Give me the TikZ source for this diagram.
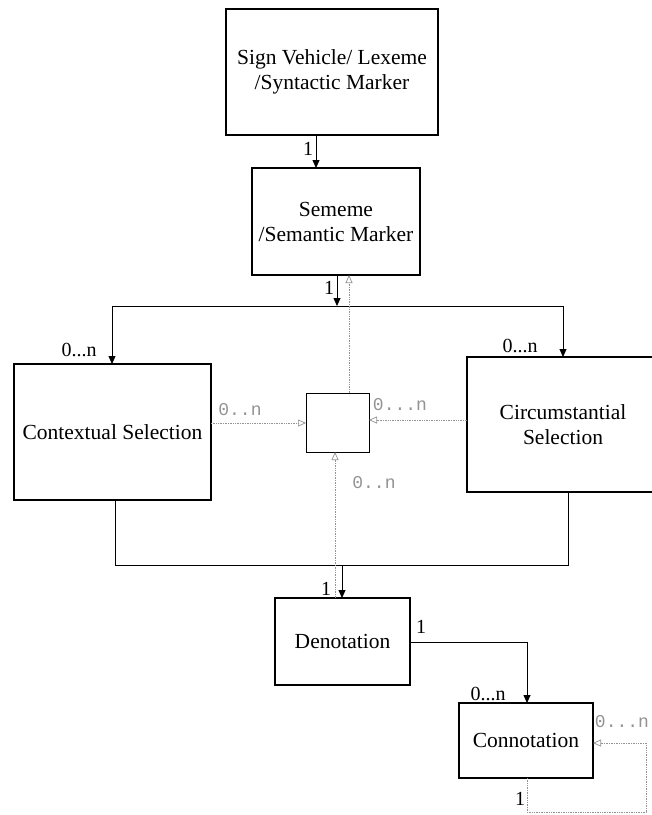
\documentclass[tikz,border=0pt]{standalone}
\usepackage{fontspec}
\setmainfont{Liberation Serif}
\setmonofont{Liberation Mono}
\usetikzlibrary{arrows.meta}
\tikzset{
  box/.style={draw=black, line width=1.3pt, inner sep=0pt, outer sep=0pt, align=center, font=\fontsize{21.5}{25}\selectfont},
  conn/.style={draw=black, line width=0.8pt},
  solidtip/.style={conn, -{Triangle[length=8pt,width=7pt]}},
  grayconn/.style={draw=gray!85, line width=0.7pt, densely dotted},
  graytip/.style={grayconn, -{Triangle[open,length=8pt,width=7pt]}},
  mult/.style={font=\fontsize{20}{20}\selectfont, inner sep=0pt},
  gmult/.style={font=\ttfamily\fontsize{18}{18}\selectfont, text=gray!85, inner sep=0pt}
}
\begin{document}
\begin{tikzpicture}[x=1pt,y=-1pt]
\useasboundingbox (0,0) rectangle (652,815);

% boxes
\node[box, minimum width=212pt, minimum height=126pt] (sv) at (332,72) {Sign Vehicle/ Lexeme\\/Syntactic Marker};
\node[box, minimum width=168pt, minimum height=107pt] (sem) at (336,221.5) {Sememe\\/Semantic Marker};
\node[box, minimum width=197pt, minimum height=136pt] (ctx) at (112.5,432) {Contextual Selection};
\node[box, minimum width=192pt, minimum height=135pt] (circ) at (563,424.5) {Circumstantial\\Selection};
\node[box, line width=0.8pt, minimum width=63pt, minimum height=59pt] (small) at (337.5,422.5) {};
\node[box, minimum width=135pt, minimum height=87pt] (den) at (342.5,641.5) {Denotation};
\node[box, minimum width=134pt, minimum height=75pt] (con) at (526,740.5) {Connotation};

% helper coordinates
\coordinate (c1) at (316,0);
\coordinate (j1) at (337,306);
\coordinate (jl) at (112,306);
\coordinate (jr) at (563,306);
\coordinate (u1) at (349,0);
\coordinate (a1) at (0,423);
\coordinate (a2) at (0,420);
\coordinate (bl) at (115,565);
\coordinate (br) at (568,565);
\coordinate (bd) at (342,565);
\coordinate (gu) at (335,0);
\coordinate (dc) at (527,642);
\coordinate (l1) at (527,812);
\coordinate (l2) at (646,812);
\coordinate (l3) at (646,743);

% connectors
\draw[solidtip] (c1 |- sv.south) -- (c1 |- sem.north);
\draw[solidtip] (j1 |- sem.south) -- (j1);
\draw[conn] (jl) -- (jr);
\draw[solidtip] (jl) -- (jl |- ctx.north);
\draw[solidtip] (jr) -- (jr |- circ.north);
\draw[graytip] (u1 |- small.north) -- (u1 |- sem.south);
\draw[graytip] (ctx.east |- a1) -- (small.west |- a1);
\draw[graytip] (circ.west |- a2) -- (small.east |- a2);
\draw[conn] (bl |- ctx.south) -- (bl) -- (br) -- (br |- circ.south);
\draw[solidtip] (bd) -- (bd |- den.north);
\draw[graytip] (gu |- den.north) -- (gu |- small.south);
\draw[solidtip] (den.east |- dc) -- (dc) -- (dc |- con.north);
\draw[graytip] (l1 |- con.south) -- (l1) -- (l2) -- (l3) -- (con.east |- l3);

% multiplicities
\node[mult] (m1) at (308,149) {1};
\node[mult] (m2) at (329,288) {1};
\node[mult] (m3) at (79,350) {0...n};
\node[mult] (m4) at (520,346) {0...n};
\node[gmult] (m5) at (240,410) {0..n};
\node[gmult] (m6) at (400,405) {0...n};
\node[gmult] (m7) at (374,483) {0..n};
\node[mult] (m8) at (326,589) {1};
\node[mult] (m9) at (421,627) {1};
\node[mult] (m10) at (488,694) {0...n};
\node[gmult] (m11) at (622,722) {0...n};
\node[mult] (m12) at (520,799) {1};
\end{tikzpicture}
\end{document}
